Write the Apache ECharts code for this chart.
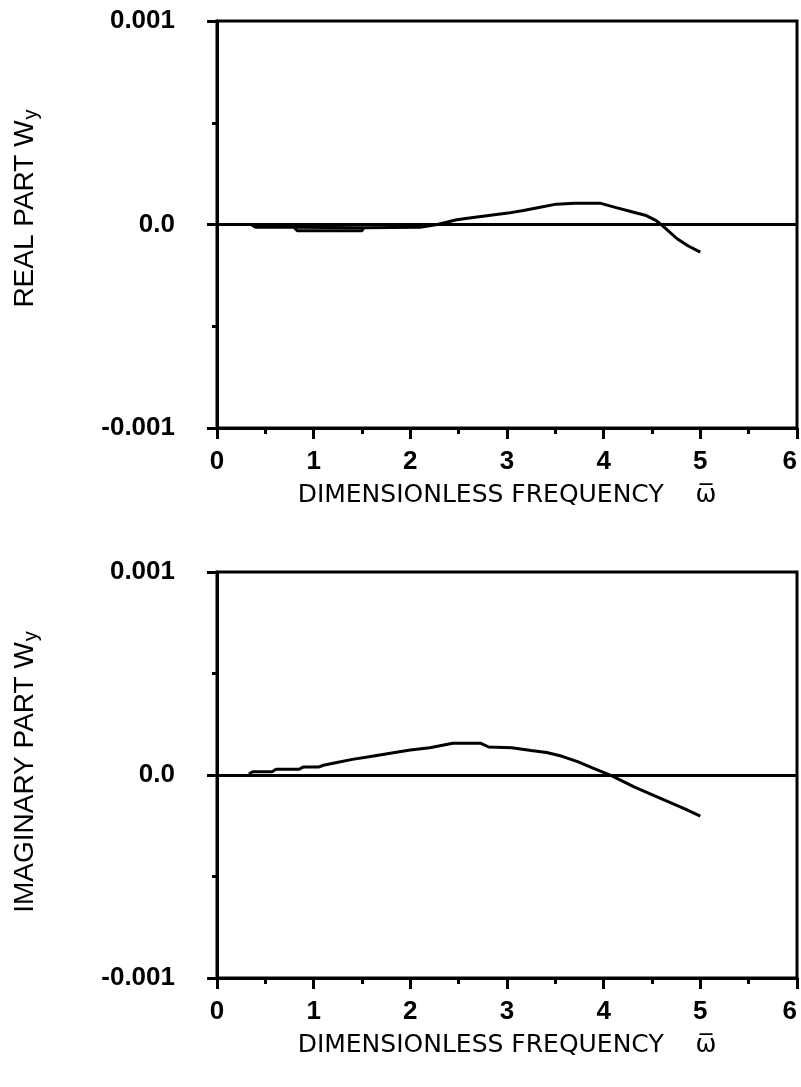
<!DOCTYPE html>
<html>
<head>
<meta charset="utf-8">
<script src="https://cdn.jsdelivr.net/npm/echarts@6/dist/echarts.min.js"></script>
<style>
  html, body { margin: 0; padding: 0; background: #fff; }
  #chart { width: 801px; height: 1087px; }
</style>
</head>
<body>
<div id="chart"></div>
<script>
// frequency (omega bar) vs real part of W_y
let realOmega = [0.35, 0.4, 0.79, 0.8, 1.52, 1.54, 2.1, 2.28, 2.48, 2.65, 2.81, 3.01, 3.17, 3.33, 3.51, 3.7, 3.96, 4.12, 4.28, 4.44, 4.54, 4.62, 4.76, 4.88, 5.0];
let realValue = [0.0, -0.000013, -0.000013, -0.000016, -0.000016, -0.000013, -0.000013, 0.0, 0.000023, 0.000034, 0.000044, 0.000056, 0.000069, 0.000084, 0.0001, 0.000105, 0.000105, 0.000084, 0.000064, 0.000044, 0.00002, -0.00001, -0.00007, -0.000107, -0.000136];
// second trace of the plotter pen, seen under the first between 0.8 and 1.5
let realOmega2 = [0.8, 0.83, 1.5, 1.52];
let realValue2 = [-0.000016, -0.000031, -0.000031, -0.000016];

// frequency vs imaginary part of W_y
let imagOmega = [0.33, 0.37, 0.57, 0.61, 0.85, 0.89, 1.05, 1.1, 1.24, 1.4, 1.54, 1.7, 1.84, 2.0, 2.2, 2.44, 2.73, 2.81, 3.05, 3.25, 3.41, 3.57, 3.73, 3.89, 4.08, 4.32, 4.6, 4.84, 5.0];
let imagValue = [0.000005, 0.000016, 0.000016, 0.000028, 0.000028, 0.000039, 0.000039, 0.000048, 0.000062, 0.000077, 0.000087, 0.0001, 0.000111, 0.000123, 0.000134, 0.000156, 0.000156, 0.000138, 0.000134, 0.000121, 0.000111, 0.000092, 0.000066, 0.000034, -0.000003, -0.00006, -0.000118, -0.000167, -0.000203];

let xTicks = ['0', '1', '2', '3', '4', '5', '6'];
let yTicks = {'-0.001': '-0.001', '0': '0.0', '0.001': '0.001'};
let xTitle = 'DIMENSIONLESS FREQUENCY    \u03c9\u0305';
let yTitles = ['REAL PART W', 'IMAGINARY PART W'];

function pairs(xs, ys) {
    let out = [];
    for (let i = 0; i < xs.length; i++) {
        out.push([xs[i], ys[i]]);
    }
    return out;
}

let ink = '#000';
let penWidth = 3;
let tickFont = {color: ink, fontFamily: 'Liberation Sans', fontWeight: 'bold', fontSize: 26};

function makeXAxis(gridIndex) {
    return {
        type: 'value', gridIndex: gridIndex, min: 0, max: 6, interval: 1,
        name: xTitle, nameLocation: 'middle', nameGap: 55,
        nameTextStyle: {color: ink, fontFamily: 'DejaVu Sans', fontSize: 25},
        axisLine: {show: true, onZero: false, lineStyle: {color: ink, width: penWidth}},
        axisTick: {show: true, inside: false, length: 11, lineStyle: {color: ink, width: penWidth}},
        minorTick: {show: true, splitNumber: 2, length: 6, lineStyle: {color: ink, width: penWidth}},
        axisLabel: Object.assign({margin: 21, alignMaxLabel: 'right', formatter: function (v) {
            return xTicks[Math.round(v)] || '';
        }}, tickFont),
        splitLine: {show: false}
    };
}

// lift: how far the rotated title sits above the middle of the axis
function makeYAxis(gridIndex, title, lift) {
    return {
        type: 'value', gridIndex: gridIndex, min: -0.001, max: 0.001, interval: 0.001,
        name: '{n|' + title + '}{s|y}', nameLocation: 'middle', nameGap: 146,
        nameTextStyle: {
            color: ink, padding: [0, 0, 30, lift * 2],
            rich: {
                n: {fontFamily: 'Liberation Sans', fontSize: 28, color: ink, lineHeight: 32, verticalAlign: 'middle'},
                s: {fontFamily: 'Liberation Sans', fontSize: 20, color: ink, lineHeight: 32, verticalAlign: 'bottom', padding: [16, 0, 0, 1]}
            }
        },
        axisLine: {show: true, onZero: false, lineStyle: {color: ink, width: penWidth}},
        axisTick: {show: true, inside: false, length: 10, lineStyle: {color: ink, width: penWidth}},
        minorTick: {show: true, splitNumber: 2, length: 5, lineStyle: {color: ink, width: penWidth}},
        axisLabel: Object.assign({margin: 42, formatter: function (v) {
            let key = String(Math.round(v * 1000) / 1000);
            return yTicks[key] || '';
        }}, tickFont),
        splitLine: {show: false}
    };
}

function curve(gridIndex, data, withZero) {
    let s = {
        type: 'line', xAxisIndex: gridIndex, yAxisIndex: gridIndex,
        data: data, showSymbol: false, symbol: 'none', silent: true,
        lineStyle: {color: ink, width: penWidth}
    };
    if (withZero) {
        s.markLine = {
            silent: true, symbol: 'none', label: {show: false},
            lineStyle: {color: ink, width: penWidth, type: 'solid'},
            data: [{yAxis: 0}]
        };
    }
    return s;
}

let chart = echarts.init(document.getElementById('chart'));
chart.setOption({
    backgroundColor: '#fff',
    animation: false,
    grid: [
        {left: 217, right: 4, top: 21, height: 407, outerBoundsMode: 'none', containLabel: false,
            show: true, borderColor: ink, borderWidth: penWidth, backgroundColor: 'transparent'},
        {left: 217, right: 4, top: 572, height: 406, outerBoundsMode: 'none', containLabel: false,
            show: true, borderColor: ink, borderWidth: penWidth, backgroundColor: 'transparent'}
    ],
    xAxis: [makeXAxis(0), makeXAxis(1)],
    yAxis: [makeYAxis(0, yTitles[0], 16), makeYAxis(1, yTitles[1], 3)],
    series: [
        curve(0, pairs(realOmega, realValue), true),
        curve(0, pairs(realOmega2, realValue2), false),
        curve(1, pairs(imagOmega, imagValue), true)
    ]
});
</script>
</body>
</html>
